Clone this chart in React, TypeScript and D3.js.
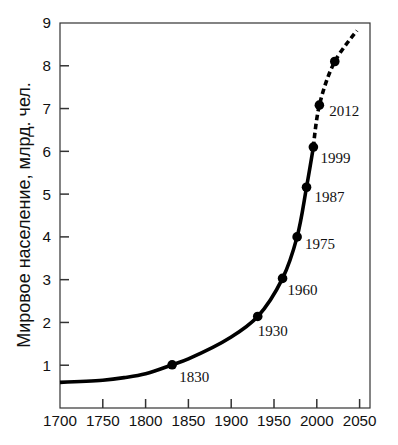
import React from "react";
import * as d3 from "d3";

// curve of world population, billions
const solidYears = [1700, 1750, 1775, 1800, 1831, 1850, 1900, 1931, 1960, 1977, 1988, 1996];
const solidValues = [0.6, 0.65, 0.71, 0.8, 1.01, 1.15, 1.66, 2.14, 3.03, 4.0, 5.16, 6.1];
const dashedYears = [1996, 2003, 2021, 2047];
const dashedValues = [6.1, 7.08, 8.1, 8.82];

// marked points and their labels
const pointYears = [1831, 1931, 1960, 1977, 1988, 1996, 2003, 2021];
const pointValues = [1.01, 2.14, 3.03, 4.0, 5.16, 6.1, 7.08, 8.1];
const pointLabels = ["1830", "1930", "1960", "1975", "1987", "1999", "2012", ""];

const xTicks = [1700, 1750, 1800, 1850, 1900, 1950, 2000, 2050];
const yTicks = [1, 2, 3, 4, 5, 6, 7, 8, 9];
const yTitle = "Мировое население, млрд. чел.";

const W = 398;
const H = 445;
const left = 60;
const right = 370;
const top = 23;
const bottom = 408;

// label nudges relative to each dot
const labelDx = [7, 0, 5, 8, 8, 7, 10, 0];
const labelDy = [17, 20, 17, 12, 15, 16, 11, 0];

const sans = "Arial, 'Liberation Sans', sans-serif";
const serif = "'Times New Roman', 'Liberation Serif', serif";

export default function App() {
  const x = d3.scaleLinear().domain([1700, 2050]).range([left, 359.6]);
  const y = d3.scaleLinear().domain([0, 9]).range([bottom, top]);

  const line = d3
    .line<[number, number]>()
    .x((d) => x(d[0]))
    .y((d) => y(d[1]))
    .curve(d3.curveCatmullRom.alpha(0.5));

  const solid = line(solidYears.map((yr, i) => [yr, solidValues[i]]));
  const dashed = line(dashedYears.map((yr, i) => [yr, dashedValues[i]]));

  return (
    <svg
      width={W}
      height={H}
      style={{ position: "absolute", left: 0, top: 0, background: "#fff" }}
    >
      <rect
        x={left}
        y={top}
        width={right - left}
        height={bottom - top}
        fill="none"
        stroke="#333"
        strokeWidth={1.2}
      />
      {xTicks.slice(1).map((t) => (
        <line
          key={"xt" + t}
          x1={x(t)}
          x2={x(t)}
          y1={bottom}
          y2={bottom - 9}
          stroke="#333"
          strokeWidth={1.5}
        />
      ))}
      {yTicks.slice(0, -1).map((t) => (
        <line
          key={"yt" + t}
          x1={left}
          x2={left + 9}
          y1={y(t)}
          y2={y(t)}
          stroke="#333"
          strokeWidth={1.5}
        />
      ))}
      {xTicks.map((t) => (
        <text
          key={"xl" + t}
          x={x(t)}
          y={426}
          textAnchor="middle"
          fontFamily={sans}
          fontSize={15.2}
          fill="#111"
        >
          {t}
        </text>
      ))}
      {yTicks.map((t) => (
        <text
          key={"yl" + t}
          x={51}
          y={y(t)}
          dy="0.36em"
          textAnchor="end"
          fontFamily={sans}
          fontSize={15.2}
          fill="#111"
        >
          {t}
        </text>
      ))}
      <text
        transform={`translate(29.5,215) rotate(-90)`}
        textAnchor="middle"
        fontFamily={sans}
        fontSize={18}
        fill="#111"
      >
        {yTitle}
      </text>

      <path d={solid ?? ""} fill="none" stroke="#000" strokeWidth={3.6} />
      <path
        d={dashed ?? ""}
        fill="none"
        stroke="#000"
        strokeWidth={3.6}
        strokeDasharray="5.5 3.5"
      />

      {pointYears.map((yr, i) => (
        <g key={"p" + yr}>
          <circle cx={x(yr)} cy={y(pointValues[i])} r={4.8} fill="#000" />
          {pointLabels[i] && (
            <text
              x={x(yr) + labelDx[i]}
              y={y(pointValues[i]) + labelDy[i]}
              fontFamily={serif}
              fontSize={15}
              fill="#111"
            >
              {pointLabels[i]}
            </text>
          )}
        </g>
      ))}
    </svg>
  );
}
